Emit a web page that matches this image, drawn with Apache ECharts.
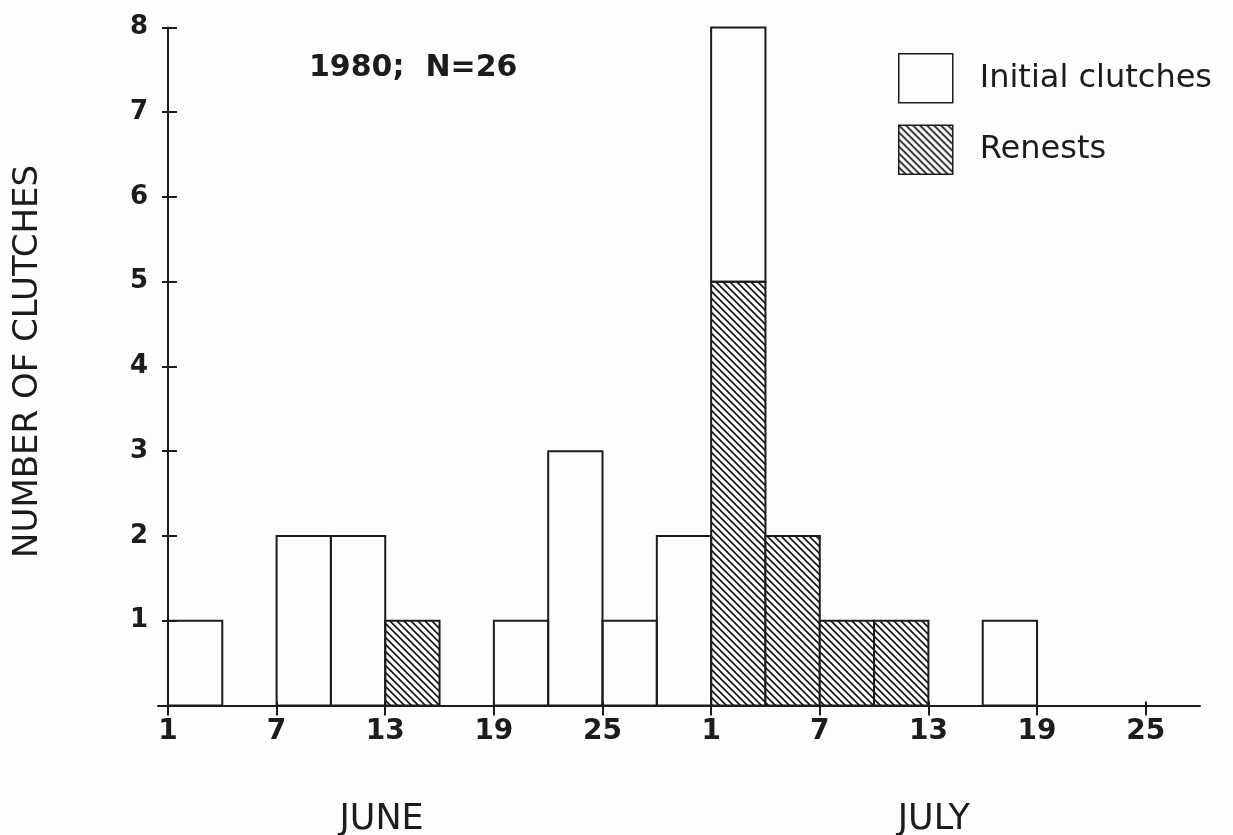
<!DOCTYPE html>
<html>
<head>
<meta charset="utf-8">
<title>Clutch initiation dates, 1980</title>
<script src="https://cdn.jsdelivr.net/npm/echarts@6/dist/echarts.min.js"></script>
<style>
  html, body { margin: 0; padding: 0; background: #fdfdfd; }
  #chart { width: 1233px; height: 835px; }
</style>
</head>
<body>
<div id="chart"></div>
<script>
// Clutches started in each 3-day period, counted in days after 1 June 1980
const binStartDay = [0, 3, 6, 9, 12, 15, 18, 21, 24, 27, 30, 33, 36, 39, 42, 45, 48, 51, 54];
const binDays = 3;
const initialClutches = [1, 0, 2, 2, 0, 0, 1, 3, 1, 2, 3, 0, 0, 0, 0, 1, 0, 0, 0];
const renests         = [0, 0, 0, 0, 1, 0, 0, 0, 0, 0, 5, 2, 1, 1, 0, 0, 0, 0, 0];

// Date ticks along the x axis (day offset from 1 June and the printed day of month)
const tickDays   = [0, 6, 12, 18, 24, 30, 36, 42, 48, 54];
const tickLabels = ['1', '7', '13', '19', '25', '1', '7', '13', '19', '25'];

// Month captions under the date ticks, centred on these day offsets
const monthNames   = ['JUNE', 'JULY'];
const monthMidDays = [11.8, 42.3];

const INK = '#1c1c1c';
const FONT = 'DejaVu Sans';

// Diagonal "\" hatching used for renests
function makeHatch() {
  const s = 7;
  const c = document.createElement('canvas');
  c.width = s; c.height = s;
  const g = c.getContext('2d');
  g.fillStyle = '#fdfdfd';
  g.fillRect(0, 0, s, s);
  g.strokeStyle = '#111';
  g.lineWidth = 1.6;
  g.beginPath();
  g.moveTo(0, 0); g.lineTo(s, s);
  g.moveTo(-s / 2, s / 2); g.lineTo(s / 2, s * 1.5);
  g.moveTo(s / 2, -s / 2); g.lineTo(s * 1.5, s / 2);
  g.stroke();
  return c;
}
const hatchFill = { image: makeHatch(), repeat: 'repeat' };

// Rectangles: [startDay, endDay, bottom, top]; renests sit below initial clutches
const renestRects = [];
const initialRects = [];
binStartDay.forEach((d, i) => {
  if (renests[i] > 0) renestRects.push([d, d + binDays, 0, renests[i]]);
  if (initialClutches[i] > 0) initialRects.push([d, d + binDays, renests[i], renests[i] + initialClutches[i]]);
});

function barRenderer(fill) {
  return function (params, api) {
    const p0 = api.coord([api.value(0), api.value(2)]);
    const p1 = api.coord([api.value(1), api.value(3)]);
    return {
      type: 'rect',
      shape: { x: p0[0], y: p1[1], width: p1[0] - p0[0], height: p0[1] - p1[1] },
      style: { fill: fill, stroke: INK, lineWidth: 2 }
    };
  };
}

const chart = echarts.init(document.getElementById('chart'), null, { renderer: 'canvas' });

const xBase = {
  type: 'value',
  position: 'bottom',
  min: -0.55,
  max: 57,
  splitLine: { show: false },
  axisLine: { onZero: true, lineStyle: { color: INK, width: 2 } }
};
const yBase = {
  type: 'value',
  position: 'left',
  min: 0,
  max: 8,
  interval: 1,
  splitLine: { show: false },
  axisLine: { onZero: true, lineStyle: { color: INK, width: 2 } }
};

chart.setOption({
  backgroundColor: '#fdfdfd',
  animation: false,
  title: {
    text: '1980;  N=26',
    left: 309,
    top: 53,
    padding: 0,
    textStyle: { fontFamily: FONT, fontWeight: 'bold', fontSize: 30, color: INK }
  },
  legend: {
    orient: 'vertical',
    left: 898,
    top: 53,
    padding: 0,
    itemWidth: 54,
    itemHeight: 49,
    itemGap: 21,
    icon: 'rect',
    selectedMode: false,
    textStyle: { fontFamily: FONT, fontSize: 32, color: INK, padding: [0, 0, 0, 22] },
    data: [
      { name: 'Initial clutches', itemStyle: { color: '#fdfdfd', borderColor: INK, borderWidth: 1.5 } },
      { name: 'Renests', itemStyle: { color: hatchFill, borderColor: INK, borderWidth: 1.5 } }
    ]
  },
  grid: { left: 158, right: 33, top: 27.4, bottom: 129.6, containLabel: false, outerBoundsMode: 'none' },
  xAxis: [
    Object.assign({}, xBase, {
      axisTick: { show: true, inside: false, length: 10, customValues: tickDays, lineStyle: { color: INK, width: 2 } },
      axisLabel: {
        show: true,
        customValues: tickDays,
        margin: 12,
        fontFamily: FONT, fontWeight: 'bold', fontSize: 28, color: INK,
        formatter: v => tickLabels[tickDays.indexOf(v)]
      }
    }),
    Object.assign({}, xBase, {
      axisLine: { show: false, onZero: true, onZeroAxisIndex: 0 },
      axisTick: { show: true, inside: true, length: 4, customValues: tickDays, lineStyle: { color: INK, width: 2 } },
      axisLabel: { show: false }
    })
  ],
  yAxis: [
    Object.assign({}, yBase, {
      name: 'NUMBER OF CLUTCHES',
      nameLocation: 'middle',
      nameRotate: 90,
      nameGap: 113,
      nameMoveOverlap: false,
      nameTextStyle: { fontFamily: FONT, fontSize: 34, color: INK, padding: [0, 0, 0, 10] },
      axisTick: { show: true, inside: false, length: 6, lineStyle: { color: INK, width: 2 } },
      axisLabel: {
        margin: 10,
        fontFamily: FONT, fontWeight: 'bold', fontSize: 26, color: INK,
        formatter: v => (v === 0 ? '' : String(v))
      }
    }),
    Object.assign({}, yBase, {
      axisLine: { show: false, onZero: true, onZeroAxisIndex: 0 },
      axisTick: { show: true, inside: true, length: 9, lineStyle: { color: INK, width: 2 } },
      axisLabel: { show: false }
    })
  ],
  series: [
    {
      name: 'Renests',
      type: 'custom',
      xAxisIndex: 0,
      yAxisIndex: 0,
      itemStyle: { color: hatchFill, borderColor: INK, borderWidth: 2 },
      encode: { x: [0, 1], y: [2, 3] },
      renderItem: barRenderer(hatchFill),
      data: renestRects,
      z: 3
    },
    {
      name: 'Initial clutches',
      type: 'custom',
      xAxisIndex: 0,
      yAxisIndex: 0,
      itemStyle: { color: '#fdfdfd', borderColor: INK, borderWidth: 2 },
      encode: { x: [0, 1], y: [2, 3] },
      renderItem: barRenderer('rgba(0,0,0,0)'),
      data: initialRects,
      z: 3
    }
  ]
});

// Month captions placed under the middle of each month's ticks
const baseY = chart.convertToPixel({ yAxisIndex: 0 }, 0);
chart.setOption({
  graphic: monthNames.map((m, i) => ({
    type: 'text',
    x: chart.convertToPixel({ xAxisIndex: 0 }, monthMidDays[i]),
    y: baseY + 115,
    style: {
      text: m,
      font: '35px "DejaVu Sans"',
      fill: INK,
      textAlign: 'center',
      textVerticalAlign: 'middle'
    }
  }))
});
</script>
</body>
</html>
